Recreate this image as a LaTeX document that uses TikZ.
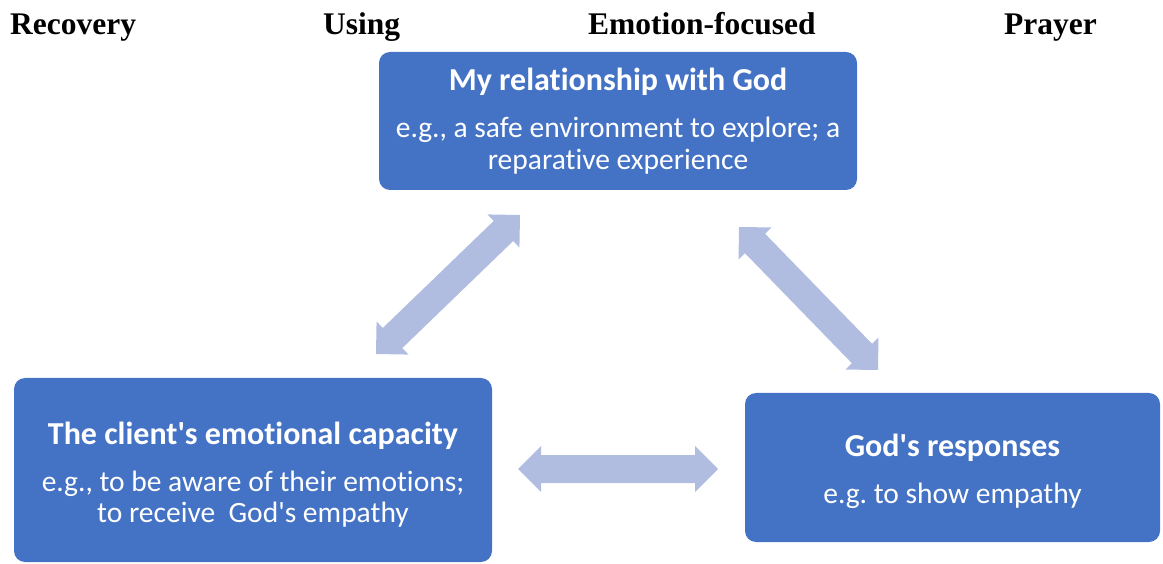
\documentclass[tikz,border=0pt]{standalone}
\usepackage{fontspec}
\setmainfont{Carlito}[Ligatures={TeXOff,NoCommon}]
\newfontfamily\headfont{Liberation Serif}
\usetikzlibrary{calc}
\definecolor{boxblue}{HTML}{4472C4}
\definecolor{linkblue}{HTML}{B0BDE0}
\frenchspacing

% broad two-headed arrow between two named coordinates
\newcommand{\twoway}[2]{%
  \coordinate (#1-h) at ($(#1)!23pt!(#2)$);
  \coordinate (#2-h) at ($(#2)!23pt!(#1)$);
  \fill[linkblue] (#1) -- ($(#1-h)!23pt!90:(#2)$) -- ($(#1-h)!14pt!90:(#2)$)
    -- ($(#2-h)!14pt!-90:(#1)$) -- ($(#2-h)!23pt!-90:(#1)$) -- (#2)
    -- ($(#2-h)!23pt!90:(#1)$) -- ($(#2-h)!14pt!90:(#1)$)
    -- ($(#1-h)!14pt!-90:(#2)$) -- ($(#1-h)!23pt!-90:(#2)$) -- cycle;}

\tikzset{
  head/.style={font=\headfont\bfseries\fontsize{31.5}{36}\selectfont, anchor=base west, inner sep=0pt},
  card/.style={fill=boxblue, rounded corners=11pt, text=white, align=center, inner sep=0pt,
    font=\fontsize{29.5}{31.5}\selectfont},
}
\newcommand{\cardtitle}[1]{{\bfseries\fontsize{32}{31.5}\selectfont #1}}

\begin{document}
\begin{tikzpicture}[x=1pt,y=1pt]
\useasboundingbox (0,0) rectangle (1163,563);

% heading words
\node[head] (h1) at (10,528) {Recovery};
\node[head] (h2) at (323,528) {Using};
\node[head] (h3) at (588,528) {Emotion-focused};
\node[head] (h4) at (1004,528) {Prayer};

% the three boxes
\node[card, minimum width=478pt, minimum height=138pt] (rel) at (618,442)
  {\cardtitle{My relationship with God}\\[16pt]
   e.g., a safe environment to explore; a\\ reparative experience};
\node[card, minimum width=478pt, minimum height=184pt] (cap) at (253,93)
  {\rule{0pt}{32pt}\cardtitle{The client's emotional capacity}\\[15pt]
   e.g., to be aware of their emotions;\\ to receive\ \ God's empathy};
\node[card, minimum width=415pt, minimum height=149pt] (resp) at (952.5,95.5)
  {\rule{0pt}{30pt}\cardtitle{God's responses}\\[16pt]
   e.g. to show empathy};

% arrows linking the boxes
\coordinate (a1) at (376,209);
\coordinate (a2) at (520,348);
\coordinate (b1) at (739,336);
\coordinate (b2) at (878,193);
\coordinate (c1) at (518,94);
\coordinate (c2) at (718,94);
\twoway{a1}{a2}
\twoway{b1}{b2}
\twoway{c1}{c2}
\end{tikzpicture}
\end{document}
